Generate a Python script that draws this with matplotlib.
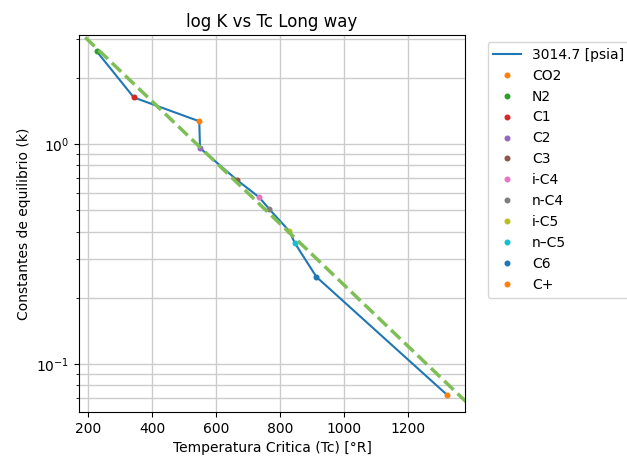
import numpy as np
import matplotlib
matplotlib.use('Agg')
import matplotlib.pyplot as plt

# critical temperatures [°R] and equilibrium constants
components = ['CO2', 'N2', 'C1', 'C2', 'C3', 'i-C4', 'n-C4', 'i-C5', 'n\u2013C5', 'C6', 'C+']
tc = [547.6, 227.3, 343.1, 549.8, 665.7, 734.7, 765.3, 828.8, 845.4, 913.4, 1322.0]
k_values = [1.27, 2.64, 1.63, 0.959, 0.686, 0.573, 0.508, 0.402, 0.356, 0.249, 0.0723]
pressure_label = '3014.7 [psia]'

# straight reference line on log scale: log10(K) = a + b*Tc
fit_intercept = 0.752
fit_slope = -0.001393

fig = plt.figure(figsize=(6.27, 4.62), dpi=100)
ax = fig.add_axes([0.126, 0.108, 0.616, 0.816])

# connecting line, sorted by Tc
order = np.argsort(tc)
tc_sorted = np.array(tc)[order]
k_sorted = np.array(k_values)[order]
ax.plot(tc_sorted, k_sorted, label=pressure_label)

for name, t, k in zip(components, tc, k_values):
    ax.plot(t, k, 'o', markersize=3.3, label=name)

x_line = np.array([150, 1450])
ax.plot(x_line, 10 ** (fit_intercept + fit_slope * x_line), '--',
        color='#7dbf55', linewidth=2.5)

ax.set_yscale('log')
ax.set_xlim(172, 1378)
ax.set_ylim(0.0605, 3.13)
ax.grid(True, which='both', color='#cccccc', linewidth=1.0)
ax.set_title('log K vs Tc Long way')
ax.set_xlabel('Temperatura Critica (Tc) [°R]')
ax.set_ylabel('Constantes de equilibrio (k)')
ax.legend(bbox_to_anchor=(1.04, 1), loc='upper left')

plt.savefig('out.png', dpi=100)
